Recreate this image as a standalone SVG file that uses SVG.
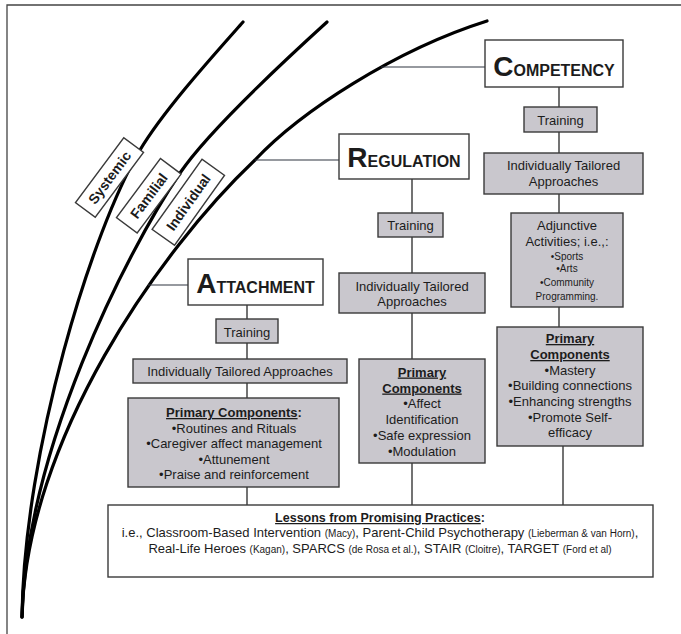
<svg xmlns="http://www.w3.org/2000/svg" width="681" height="634" viewBox="0 0 681 634">
<style>
text{font-family:"Liberation Sans",Arial,sans-serif;fill:#1c1c1c;text-anchor:middle}
.t{font-size:13px}
.b{font-weight:bold}
.s{font-size:10px}
.u{text-decoration:underline}
.gray{fill:#c9c7cd;stroke:#3a3a3a;stroke-width:1.4}
.white{fill:#ffffff;stroke:#3a3a3a;stroke-width:1.4}
.curve{fill:none;stroke:#000;stroke-width:3.2;stroke-linecap:round}
.conn{fill:none;stroke:#444;stroke-width:1.5}
.hconn{fill:none;stroke:#2e3440;stroke-width:1.2}
.big{font-weight:bold;font-size:28px}
.cap{font-weight:bold;font-size:16px}
.lab{font-weight:bold;font-size:14px}
</style>
<rect width="681" height="634" fill="#ffffff"/>
<path d="M7,634 V5 H681" fill="none" stroke="#444" stroke-width="1.3"/>

<g id="curves">
<path class="curve" d="M22,617 C24,450 92,230 140,150 C164,110 212,57 243,22"/>
<path class="curve" d="M22,617 C26,450 126,253 180,173 C207,133 283,62 327,22"/>
<path class="curve" d="M22,617 C26,440 160,250 255,160 C300,112 395,50 487,21"/>
</g>

<g id="connectors">
<line class="hconn" x1="148" y1="285" x2="188" y2="285" stroke="#8c8c70"/>
<line class="hconn" x1="255" y1="160" x2="339" y2="160"/>
<line class="hconn" x1="381" y1="67" x2="485" y2="67"/>
<line class="conn" x1="247" y1="305" x2="247" y2="505"/>
<line class="conn" x1="412" y1="179" x2="412" y2="505"/>
<line class="conn" x1="559" y1="87" x2="559" y2="327"/>
<line class="conn" x1="563" y1="446" x2="563" y2="505"/>
</g>

<g id="label-systemic" transform="translate(109.5,177.5) rotate(-53.4)">
<rect class="white" x="-40.5" y="-12.3" width="81" height="24.6"/>
<text class="lab" x="0" y="5">Systemic</text>
</g>
<g id="label-familial" transform="translate(148.8,195.8) rotate(-53.3)">
<rect class="white" x="-36.8" y="-12.9" width="73.6" height="25.8"/>
<text class="lab" x="0" y="5">Familial</text>
</g>
<g id="label-individual" transform="translate(188.3,202.3) rotate(-54.5)">
<rect class="white" x="-43" y="-13.8" width="86" height="27.6"/>
<text class="lab" x="0" y="5">Individual</text>
</g>

<g id="attachment">
<rect class="white" x="188" y="259" width="135" height="46"/>
<text x="255.5" y="293"><tspan class="big">A</tspan><tspan class="cap">TTACHMENT</tspan></text>
</g>
<g id="attachment-training">
<rect class="gray" x="216" y="319" width="62" height="24"/>
<text class="t" x="247" y="337">Training</text>
</g>
<g id="attachment-approaches">
<rect class="gray" x="133" y="359" width="214" height="24"/>
<text class="t" x="240" y="376">Individually Tailored Approaches</text>
</g>
<g id="attachment-components">
<rect class="gray" x="128" y="398" width="211" height="89"/>
<text class="t" x="234" y="417"><tspan class="b u">Primary Components</tspan><tspan class="b">:</tspan></text>
<text class="t" x="234" y="432.5">•Routines and Rituals</text>
<text class="t" x="234" y="448">•Caregiver affect management</text>
<text class="t" x="234" y="463.5">•Attunement</text>
<text class="t" x="234" y="479">•Praise and reinforcement</text>
</g>

<g id="regulation">
<rect class="white" x="339" y="134" width="130" height="45"/>
<text x="404" y="167"><tspan class="big">R</tspan><tspan class="cap">EGULATION</tspan></text>
</g>
<g id="regulation-training">
<rect class="gray" x="378" y="213" width="65" height="24"/>
<text class="t" x="410.5" y="230">Training</text>
</g>
<g id="regulation-approaches">
<rect class="gray" x="339" y="273" width="146" height="40"/>
<text class="t" x="412" y="290.5">Individually Tailored</text>
<text class="t" x="412" y="306">Approaches</text>
</g>
<g id="regulation-components">
<rect class="gray" x="359" y="359" width="126" height="104"/>
<text class="t b u" x="422" y="376.5">Primary</text>
<text class="t b u" x="422" y="392.5">Components</text>
<text class="t" x="422" y="408">•Affect</text>
<text class="t" x="422" y="424">Identification</text>
<text class="t" x="422" y="440">•Safe expression</text>
<text class="t" x="422" y="455.5">•Modulation</text>
</g>

<g id="competency">
<rect class="white" x="485" y="40" width="138" height="47"/>
<text x="554" y="75.5"><tspan class="big">C</tspan><tspan class="cap">OMPETENCY</tspan></text>
</g>
<g id="competency-training">
<rect class="gray" x="524" y="107" width="73" height="25"/>
<text class="t" x="560.5" y="124.5">Training</text>
</g>
<g id="competency-approaches">
<rect class="gray" x="484" y="153" width="159" height="41"/>
<text class="t" x="563.5" y="170">Individually Tailored</text>
<text class="t" x="563.5" y="186">Approaches</text>
</g>
<g id="competency-adjunctive">
<rect class="gray" x="511" y="213" width="112" height="94"/>
<text class="t" x="567" y="230">Adjunctive</text>
<text class="t" x="567" y="246">Activities; i.e.,:</text>
<text class="s" x="567" y="259.5">•Sports</text>
<text class="s" x="567" y="272">•Arts</text>
<text class="s" x="567" y="286">•Community</text>
<text class="s" x="567" y="300">Programming.</text>
</g>
<g id="competency-components">
<rect class="gray" x="497" y="327" width="146" height="119"/>
<text class="t b u" x="570" y="343">Primary</text>
<text class="t b u" x="570" y="359">Components</text>
<text class="t" x="570" y="374.5">•Mastery</text>
<text class="t" x="570" y="390">•Building connections</text>
<text class="t" x="570" y="406">•Enhancing strengths</text>
<text class="t" x="570" y="421.5">•Promote Self-</text>
<text class="t" x="570" y="437">efficacy</text>
</g>

<g id="lessons">
<rect class="white" x="108" y="505" width="545" height="72"/>
<text x="380" y="522" font-size="12.5"><tspan class="b u">Lessons from Promising Practices</tspan><tspan class="b">:</tspan></text>
<text class="t" x="380" y="537">i.e., Classroom-Based Intervention <tspan class="s">(Macy)</tspan>, Parent-Child Psychotherapy <tspan class="s">(Lieberman &amp; van Horn)</tspan>,</text>
<text class="t" x="380" y="553">Real-Life Heroes <tspan class="s">(Kagan)</tspan>, SPARCS <tspan class="s">(de Rosa et al.)</tspan>, STAIR <tspan class="s">(Cloitre)</tspan>, TARGET <tspan class="s">(Ford et al)</tspan></text>
</g>
</svg>
